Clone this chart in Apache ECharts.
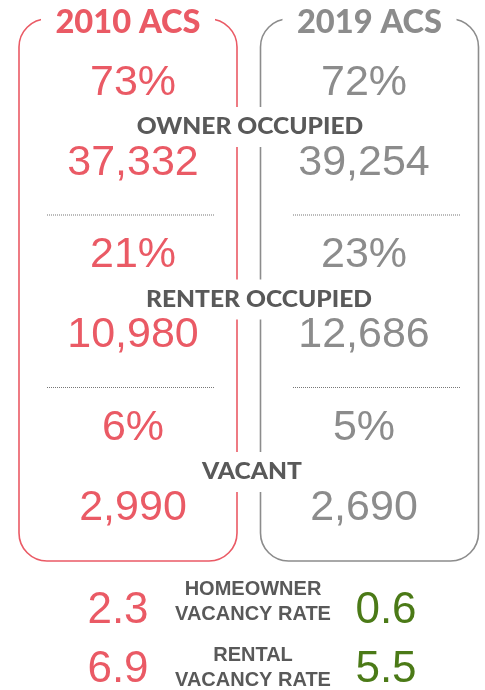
<!DOCTYPE html>
<html>
<head>
<meta charset="utf-8">
<script src="https://cdn.jsdelivr.net/npm/echarts@6/dist/echarts.min.js"></script>
<style>
html, body { margin: 0; padding: 0; background: #fff; }
#chart { width: 485px; height: 690px; }
</style>
</head>
<body>
<div id="chart"></div>
<script>
// 数据
var years = ['2010 ACS', '2019 ACS'];
var categories = ['OWNER OCCUPIED', 'RENTER OCCUPIED', 'VACANT'];
var share2010 = [73, 21, 6];
var share2019 = [72, 23, 5];
var units2010 = [37332, 10980, 2990];
var units2019 = [39254, 12686, 2690];
var rateNames = [['HOMEOWNER', 'VACANCY RATE'], ['RENTAL', 'VACANCY RATE']];
var rate2010 = [2.3, 6.9];
var rate2019 = [0.6, 5.5];

// 颜色
var RED = '#ea5a65';
var GREY = '#8c8c8c';
var GREEN = '#4b7a17';
var DARK = '#595959';
var yearColors = [RED, GREY];
var rateColors = [RED, GREEN];

// 版面
var BOX_X = [128, 369.5];
var TEXT_X = [133, 364];
var SEP_X = [131, 377];
var BOX_HALF = 109;
var BOX_TOP = 19;
var BOX_BOTTOM = 561;
var TITLE_Y = 23;
var GROUP_Y = 83;
var GROUP_STEP = 172.5;
var LABEL_X = [250, 259, 252];
var RATE_X = [118, 386];
var RATE_LABEL_X = 253;
var RATE_Y = [611, 670];
var RATE_LABEL_Y = [602, 668];

var NUM_FONT = '43px "Liberation Sans", Arial, sans-serif';
var CAT_FONT = '900 23px Lato, sans-serif';

function fmt(n) {
	return n.toLocaleString('en-US');
}

function text(p, str, color, font, sx) {
	return {
		type : 'text',
		x : p[0],
		y : p[1],
		scaleX : sx || 1,
		style : {
			text : str,
			fill : color,
			font : font,
			align : 'center',
			verticalAlign : 'middle'
		}
	};
}

// 每年的面板
function renderPanel(params, api) {
	var i = api.value(0);
	var c = yearColors[i];
	var shares = i ? share2019 : share2010;
	var units = i ? units2019 : units2010;
	var tl = api.coord([BOX_X[i] - BOX_HALF, BOX_TOP]);
	var br = api.coord([BOX_X[i] + BOX_HALF, BOX_BOTTOM]);
	var children = [{
		type : 'rect',
		shape : { x : tl[0], y : tl[1], width : br[0] - tl[0], height : br[1] - tl[1], r : 28 },
		style : { fill : 'none', stroke : c, lineWidth : 1.6 }
	}];
	var t = api.coord([BOX_X[i], TITLE_Y]);
	children.push({
		type : 'rect',
		shape : { x : t[0] - 87, y : t[1] - 20, width : 174, height : 40 },
		style : { fill : '#fff' }
	});
	children.push(text(t, years[i], c, '900 32px Lato, sans-serif', 1.02));
	for (var k = 0; k < shares.length; k++) {
		var base = GROUP_Y + k * GROUP_STEP;
		children.push(text(api.coord([TEXT_X[i], base]), shares[k] + '%', c, NUM_FONT));
		children.push(text(api.coord([TEXT_X[i], base + 80]), fmt(units[k]), c, NUM_FONT));
		if (k < shares.length - 1) {
			var a = api.coord([SEP_X[i] - 84, base + 132]);
			var b = api.coord([SEP_X[i] + 84, base + 132]);
			children.push({
				type : 'line',
				shape : { x1 : a[0], y1 : a[1], x2 : b[0], y2 : b[1] },
				style : { stroke : '#777', lineWidth : 1, lineDash : [1, 1] }
			});
		}
	}
	return { type : 'group', children : children };
}

// 中间的类别标签
function renderCategory(params, api) {
	var k = api.value(0);
	var p = api.coord([LABEL_X[k], GROUP_Y + k * GROUP_STEP + 44]);
	return {
		type : 'group',
		children : [{
			type : 'rect',
			shape : { x : p[0] - 50, y : p[1] - 20, width : 100, height : 40 },
			style : { fill : '#fff' }
		}, text(p, categories[k], DARK, CAT_FONT, 1.07)]
	};
}

// 空置率
function renderRate(params, api) {
	var r = api.value(0);
	var children = [];
	children.push(text(api.coord([RATE_X[0], RATE_Y[r]]), rate2010[r].toFixed(1), rateColors[0], '44px "Liberation Sans", Arial, sans-serif'));
	children.push(text(api.coord([RATE_X[1], RATE_Y[r]]), rate2019[r].toFixed(1), rateColors[1], '44px "Liberation Sans", Arial, sans-serif'));
	var lines = rateNames[r];
	for (var j = 0; j < lines.length; j++) {
		children.push(text(api.coord([RATE_LABEL_X, RATE_LABEL_Y[r] + (j - 0.5) * 25]), lines[j], DARK, 'bold 20px "Liberation Sans", Arial, sans-serif'));
	}
	return { type : 'group', children : children };
}

var myChart = echarts.init(document.getElementById('chart'));
var option = {
	animation : false,
	grid : { left : 0, right : 0, top : 0, bottom : 0 },
	xAxis : { type : 'value', min : 0, max : 485, show : false },
	yAxis : { type : 'value', min : 0, max : 690, inverse : true, show : false },
	series : [{
		type : 'custom',
		z : 1,
		data : years.map(function(y, i) { return [i]; }),
		renderItem : renderPanel
	}, {
		type : 'custom',
		z : 2,
		data : categories.map(function(c, k) { return [k]; }),
		renderItem : renderCategory
	}, {
		type : 'custom',
		z : 2,
		data : rateNames.map(function(n, r) { return [r]; }),
		renderItem : renderRate
	}]
};
myChart.setOption(option);
</script>
</body>
</html>
